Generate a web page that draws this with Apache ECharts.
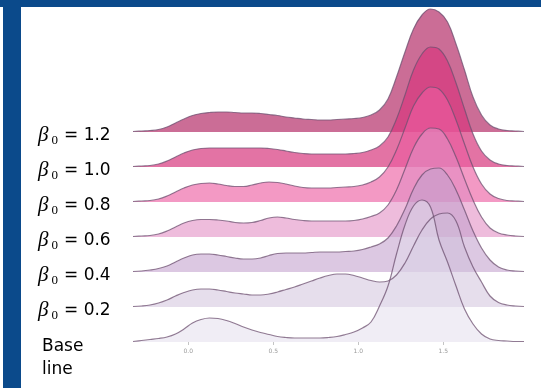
<!DOCTYPE html>
<html><head><meta charset="utf-8">
<script src="https://cdn.jsdelivr.net/npm/echarts@6/dist/echarts.min.js"></script>
<style>html,body{margin:0;padding:0;background:#fff}#c{width:541px;height:388px}</style>
</head><body><div id="c"></div>
<script>
// shared x grid (value axis)
const xValues = [-0.325,-0.275,-0.225,-0.175,-0.125,-0.075,-0.025,0.025,0.075,0.125,0.175,0.225,0.275,0.325,0.375,0.425,0.475,0.525,0.575,0.625,0.675,0.725,0.775,0.825,0.875,0.925,0.975,1.025,1.075,1.125,1.175,1.225,1.275,1.325,1.375,1.425,1.475,1.525,1.575,1.625,1.675,1.725,1.775,1.825,1.875,1.925,1.975];
const ridgeNames = ['1.2','1.0','0.8','0.6','0.4','0.2','Base line'];
const tickValues = [0, 0.5, 1.0, 1.5];
// ridge heights (density, drawn units)
const ridge12 = [0.5,1,1.5,2.5,5,9,13,16.5,18.5,19.5,20,20,19.5,19,19,18.5,17.5,16.5,15,14,13,12.5,12,12,12.5,13,13.5,14.5,17,22,33,55,80,103,117,123,120,110,88,62,35,17,7,3,1.5,1,0.5];
const ridge10 = [0.5,1,1.5,3,6,10,14,17,18.5,19,19,19,19,19,19,19,18.5,17.5,16,14.5,13.5,13,13,13,13,13,13.5,14.5,17,21,30,48,72,97,113,120,118,106,84,58,33,16,7,3,1.5,1,0.5];
const ridge08 = [0.5,1,1.5,3,6,10,14,17,18.5,19,18,16.5,15.5,15.5,17,19,20,19.5,18,16,14.5,14,14,14,14.5,15,15.5,17,20,25,35,52,74,96,109,115,113,102,82,58,35,18,8,3.5,1.5,1,0.5];
const ridge06 = [0.5,1,1.5,3,6,10,14,16.5,17.5,17.5,17,16,14.5,14,14.5,16.5,19,20,19,17.5,16.5,16,16,16,16,16,16.5,18,20.5,24,32,47,68,89,103,109,108,98,80,58,37,20,9,4,2,1,0.5];
const ridge04 = [0.5,1,2,3.5,6,10,14,17,18,18,17,15.5,14,13,13,14,16.5,18.5,19,19,19,19.5,20,20,20,20.5,21,22.5,25,28,34,46,63,83,97,103,104,97,82,62,41,24,12,5,2,1,0.5];
const ridge02 = [0.5,1,2,4,7,11,14.5,17,18,18,17,15.5,14,13,12,12,13,15,17.5,20,23,26,29,31.5,33,33,31.5,29,26.5,25,26,32,44,61,77,88,93,94,86,60,40,25,11,4.5,2,1,0.5];
const ridgeBase = [0.5,1.5,2.5,3.5,5,8,13,19,22.5,24,23.5,21.5,18.5,15,12,9.5,7.5,5.5,4.5,4,4,4,4,4.5,5.5,7.5,10,14,20,36,56,88,117,136,142,135,102,80,56,33,18,8,3,1.5,1,0.5,0.5];
const ridgeData = [ridge12, ridge10, ridge08, ridge06, ridge04, ridge02, ridgeBase];

// styling / layout
const fills = ['rgba(185,60,115,0.75)','rgba(215,55,125,0.7)','rgba(235,90,160,0.62)','rgba(225,140,195,0.58)','rgba(195,160,205,0.58)','rgba(205,190,218,0.5)','rgba(225,220,236,0.5)'];
const baselines = [132,167,202,237,272,307,342];
const H = 145, W = 541, HT = 388;

const chart = echarts.init(document.getElementById('c'), null, {renderer:'canvas'});
const grids = [], xAxes = [], yAxes = [], series = [], graphics = [];
ridgeData.forEach((d, i) => {
  grids.push({left:133, width:391, bottom: HT - baselines[i], height: H, outerBoundsMode:'none'});
  const isLast = i === ridgeData.length - 1;
  xAxes.push({type:'value', gridIndex:i, min:-0.325, max:1.975, show:isLast,
    axisLine:{show:false}, splitLine:{show:false},
    axisTick:{show:true, customValues:tickValues, length:3, lineStyle:{color:'#c4c4c4'}},
    axisLabel:{customValues:tickValues, formatter:v=>v.toFixed(1), fontSize:6, color:'#9a9a9a', margin:6, fontFamily:'DejaVu Sans'}});
  yAxes.push({type:'value', gridIndex:i, min:0, max:H, show:false});
  series.push({type:'line', name:ridgeNames[i], xAxisIndex:i, yAxisIndex:i,
    data: xValues.map((x,k)=>[x, d[k]]), smooth:0.4, symbol:'none', silent:true,
    lineStyle:{color:'rgba(110,80,112,0.75)', width:1.2},
    areaStyle:{color:fills[i], opacity:1}});
  const b = baselines[i];
  if (!isLast) {
    graphics.push({type:'group', children:[
      {type:'text', x:38, y:b+3, style:{text:'β', fontSize:21, fontStyle:'italic', fontFamily:'Liberation Serif', fill:'#000', verticalAlign:'middle'}},
      {type:'text', x:51.5, y:b+8.5, style:{text:'0', fontSize:13, fontFamily:'Liberation Serif', fill:'#000', verticalAlign:'middle'}},
      {type:'text', x:64, y:b+3.5, style:{text:'= ' + ridgeNames[i], fontSize:17, fontFamily:'DejaVu Sans', fill:'#000', verticalAlign:'middle'}}
    ]});
  } else {
    const parts = ridgeNames[i].split(' ');
    graphics.push({type:'text', x:42, y:b+5, style:{text:parts[0], fontSize:17, fontFamily:'DejaVu Sans', fill:'#000', verticalAlign:'middle'}});
    graphics.push({type:'text', x:42, y:b+28, style:{text:parts[1], fontSize:17, fontFamily:'DejaVu Sans', fill:'#000', verticalAlign:'middle'}});
  }
});
graphics.push({type:'rect', shape:{x:0,y:0,width:W,height:7}, style:{fill:'#0b4a8b'}, z:100});
graphics.push({type:'rect', shape:{x:3,y:0,width:18,height:HT}, style:{fill:'#0b4a8b'}, z:100});

chart.setOption({
  animation:false,
  backgroundColor:'#ffffff',
  grid:grids, xAxis:xAxes, yAxis:yAxes, series:series, graphic:graphics
});
</script></body></html>
